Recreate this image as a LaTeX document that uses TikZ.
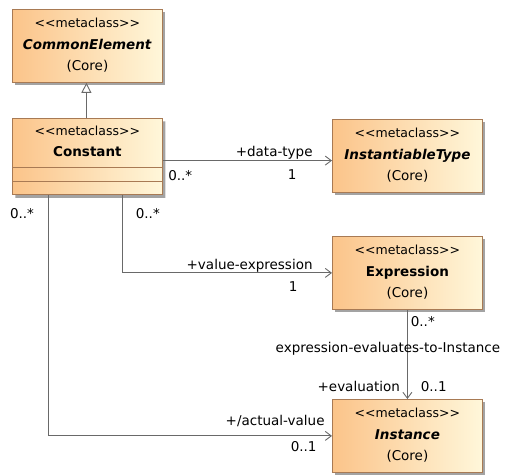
\documentclass[tikz,border=0pt]{standalone}
\usepackage{fontspec}
\setmainfont{DejaVu Sans}[Ligatures=TeXOff]
\usetikzlibrary{arrows.meta,shapes.multipart,shadows}

\definecolor{classleft}{RGB}{251,196,138}
\definecolor{classright}{RGB}{255,247,218}
\definecolor{classborder}{RGB}{168,122,84}
\definecolor{linkgray}{RGB}{105,105,105}

% one centred line of a class box
\newcommand{\umlline}[1]{\hbox to 150pt{\hss\vrule height 14pt depth 7.5pt width 0pt #1\hss}}
\newcommand{\stereo}{\umlline{\fontsize{12.5}{15}\selectfont<<metaclass>>}}
\newcommand{\metabody}[1]{\vbox to 73pt{\offinterlineskip\vss\stereo\umlline{#1}\umlline{(Core)}\vss}}
\newcommand{\metahead}[1]{\vbox to 48pt{\offinterlineskip\vss\stereo\umlline{#1}\vss}}

\tikzset{
  metaclass/.style={draw=classborder, line width=0.8pt, left color=classleft, right color=classright,
    inner sep=0pt, minimum width=150pt, anchor=north west,
    font=\fontsize{13.5}{16}\selectfont,
    drop shadow={shadow xshift=3pt, shadow yshift=-3pt, fill=black!45, opacity=0.8}},
  link/.style={draw=linkgray, line width=0.9pt},
  assoc/.style={link, -{Straight Barb[length=6pt,width=9pt]}},
  generalization/.style={link, -{Triangle[open,length=10pt,width=10pt,fill=white]}},
  role/.style={inner sep=0pt, font=\fontsize{13.5}{16}\selectfont}
}

\begin{document}
\begin{tikzpicture}[x=1pt,y=-1pt]
\useasboundingbox (0,0) rectangle (505,475);

% classes
\node[metaclass] (commonelement) at (12,9) {\metabody{\textbf{\textit{CommonElement}}}};
\node[metaclass, rectangle split, rectangle split parts=3,
  rectangle split empty part height=13pt, rectangle split empty part depth=0pt]
  (constant) at (12,118) {\metahead{\textbf{Constant}}\nodepart{two}\nodepart{three}};
\node[metaclass] (instantiabletype) at (332,119) {\metabody{\textbf{\textit{InstantiableType}}}};
\node[metaclass] (expression) at (332,236) {\metabody{\textbf{Expression}}};
\node[metaclass] (instance) at (332,399) {\metabody{\textbf{\textit{Instance}}}};

% generalization
\draw[generalization] ([xshift=-1pt]constant.north) -- ([xshift=-1pt]commonelement.south);

% associations
\draw[assoc] ([yshift=-4pt]constant.east) -- ([yshift=-4pt]constant.east -| instantiabletype.west)
  node[role, at start, anchor=base west, xshift=5pt, yshift=-20pt] {0..*}
  node[role, at end, anchor=base east, xshift=-19pt, yshift=4pt] {+data-type}
  node[role, at end, anchor=base east, xshift=-35pt, yshift=-19pt] {1};

\draw[assoc] ([xshift=35pt]constant.south) |- (expression.west)
  node[role, at start, anchor=base west, xshift=13pt, yshift=-23pt] {0..*}
  node[role, at end, anchor=base east, xshift=-19pt, yshift=3pt] {+value-expression}
  node[role, at end, anchor=base east, xshift=-34pt, yshift=-19pt] {1};

\draw[assoc] ([xshift=-39pt]constant.south) |- (instance.west)
  node[role, at start, anchor=base east, xshift=-14pt, yshift=-23pt] {0..*}
  node[role, at end, anchor=base east, xshift=-7pt, yshift=10pt] {+/actual-value}
  node[role, at end, anchor=base east, xshift=-15pt, yshift=-16pt] {0..1};

\draw[assoc] (expression.south) -- (instance.north)
  node[role, at start, anchor=base west, xshift=3pt, yshift=-17pt] {0..*}
  node[role, midway, anchor=base, xshift=-19.5pt, yshift=2pt] {expression-evaluates-to-Instance}
  node[role, at end, anchor=base east, xshift=-7pt, yshift=8pt] {+evaluation}
  node[role, at end, anchor=base west, xshift=13pt, yshift=8pt] {0..1};
\end{tikzpicture}
\end{document}
